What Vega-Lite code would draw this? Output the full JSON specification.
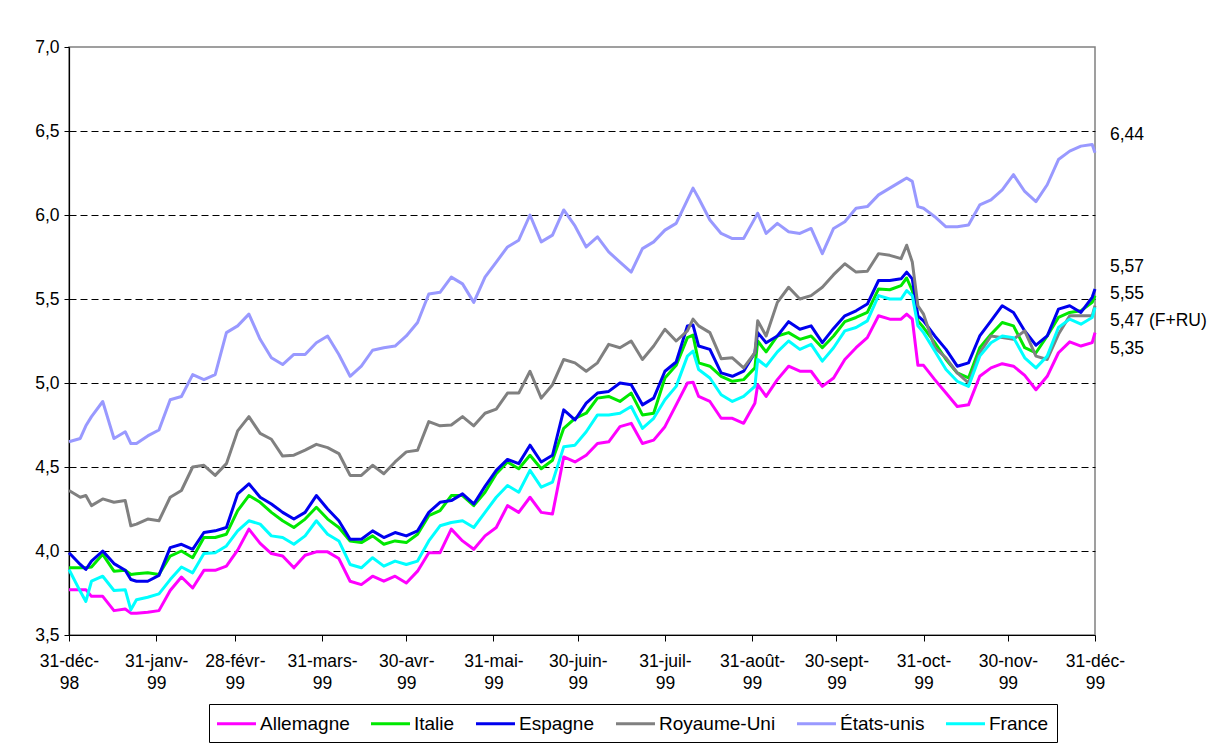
{
  "$schema": "https://vega.github.io/schema/vega-lite/v6.json",
  "width": 1026,
  "height": 588,
  "autosize": {"type": "none"},
  "padding": {"left": 69, "top": 47, "right": 132, "bottom": 114},
  "background": "white",
  "config": {
    "locale": {"number": {"decimal": ",", "thousands": " ", "grouping": [3], "currency": ["", " €"]}},
    "font": "Liberation Sans",
    "view": {"stroke": "#808080", "strokeWidth": 1.5}
  },
  "datasets": {
    "rates": [
      {"date":"1998-12-31","Allemagne":3.77,"Italie":3.90,"Espagne":3.99,"Royaume-Uni":4.36,"États-unis":4.65,"France":3.89},
      {"date":"1999-01-04","Allemagne":3.77,"Italie":3.90,"Espagne":3.92,"Royaume-Uni":4.32,"États-unis":4.67,"France":3.76},
      {"date":"1999-01-06","Allemagne":3.77,"Italie":3.90,"Espagne":3.89,"Royaume-Uni":4.33,"États-unis":4.745,"France":3.70},
      {"date":"1999-01-08","Allemagne":3.73,"Italie":3.905,"Espagne":3.94,"Royaume-Uni":4.27,"États-unis":4.80,"France":3.82},
      {"date":"1999-01-12","Allemagne":3.73,"Italie":3.98,"Espagne":4.00,"Royaume-Uni":4.31,"États-unis":4.89,"France":3.85},
      {"date":"1999-01-16","Allemagne":3.645,"Italie":3.88,"Espagne":3.925,"Royaume-Uni":4.29,"États-unis":4.67,"France":3.765},
      {"date":"1999-01-20","Allemagne":3.655,"Italie":3.885,"Espagne":3.885,"Royaume-Uni":4.30,"États-unis":4.71,"France":3.77},
      {"date":"1999-01-22","Allemagne":3.63,"Italie":3.86,"Espagne":3.83,"Royaume-Uni":4.15,"États-unis":4.64,"France":3.65},
      {"date":"1999-01-24","Allemagne":3.63,"Italie":3.865,"Espagne":3.82,"Royaume-Uni":4.16,"États-unis":4.64,"France":3.71},
      {"date":"1999-01-28","Allemagne":3.635,"Italie":3.87,"Espagne":3.82,"Royaume-Uni":4.19,"États-unis":4.685,"France":3.725},
      {"date":"1999-02-01","Allemagne":3.645,"Italie":3.86,"Espagne":3.855,"Royaume-Uni":4.18,"États-unis":4.72,"France":3.745},
      {"date":"1999-02-05","Allemagne":3.765,"Italie":3.97,"Espagne":4.02,"Royaume-Uni":4.32,"États-unis":4.90,"France":3.83},
      {"date":"1999-02-09","Allemagne":3.845,"Italie":4.00,"Espagne":4.04,"Royaume-Uni":4.36,"États-unis":4.92,"France":3.905},
      {"date":"1999-02-13","Allemagne":3.78,"Italie":3.96,"Espagne":4.01,"Royaume-Uni":4.50,"États-unis":5.05,"France":3.87},
      {"date":"1999-02-17","Allemagne":3.885,"Italie":4.08,"Espagne":4.11,"Royaume-Uni":4.51,"États-unis":5.02,"France":3.985},
      {"date":"1999-02-21","Allemagne":3.885,"Italie":4.08,"Espagne":4.12,"Royaume-Uni":4.45,"États-unis":5.05,"France":3.99},
      {"date":"1999-02-25","Allemagne":3.91,"Italie":4.10,"Espagne":4.14,"Royaume-Uni":4.52,"États-unis":5.30,"France":4.03},
      {"date":"1999-03-01","Allemagne":4.005,"Italie":4.24,"Espagne":4.34,"Royaume-Uni":4.715,"États-unis":5.34,"France":4.12},
      {"date":"1999-03-05","Allemagne":4.13,"Italie":4.33,"Espagne":4.40,"Royaume-Uni":4.80,"États-unis":5.41,"France":4.18},
      {"date":"1999-03-09","Allemagne":4.045,"Italie":4.29,"Espagne":4.32,"Royaume-Uni":4.70,"États-unis":5.26,"France":4.16},
      {"date":"1999-03-13","Allemagne":3.985,"Italie":4.23,"Espagne":4.28,"Royaume-Uni":4.665,"États-unis":5.15,"France":4.09},
      {"date":"1999-03-17","Allemagne":3.97,"Italie":4.18,"Espagne":4.23,"Royaume-Uni":4.565,"États-unis":5.11,"France":4.08},
      {"date":"1999-03-21","Allemagne":3.90,"Italie":4.14,"Espagne":4.19,"Royaume-Uni":4.57,"États-unis":5.17,"France":4.04},
      {"date":"1999-03-25","Allemagne":3.975,"Italie":4.19,"Espagne":4.23,"Royaume-Uni":4.60,"États-unis":5.17,"France":4.09},
      {"date":"1999-03-29","Allemagne":3.995,"Italie":4.26,"Espagne":4.33,"Royaume-Uni":4.635,"États-unis":5.24,"France":4.18},
      {"date":"1999-04-02","Allemagne":3.995,"Italie":4.19,"Espagne":4.25,"Royaume-Uni":4.615,"États-unis":5.28,"France":4.10},
      {"date":"1999-04-06","Allemagne":3.955,"Italie":4.14,"Espagne":4.18,"Royaume-Uni":4.58,"États-unis":5.17,"France":4.06},
      {"date":"1999-04-10","Allemagne":3.82,"Italie":4.06,"Espagne":4.07,"Royaume-Uni":4.45,"États-unis":5.04,"France":3.92},
      {"date":"1999-04-14","Allemagne":3.80,"Italie":4.05,"Espagne":4.07,"Royaume-Uni":4.45,"États-unis":5.10,"France":3.90},
      {"date":"1999-04-18","Allemagne":3.85,"Italie":4.09,"Espagne":4.12,"Royaume-Uni":4.51,"États-unis":5.195,"France":3.96},
      {"date":"1999-04-22","Allemagne":3.82,"Italie":4.04,"Espagne":4.08,"Royaume-Uni":4.46,"États-unis":5.21,"France":3.91},
      {"date":"1999-04-26","Allemagne":3.85,"Italie":4.06,"Espagne":4.11,"Royaume-Uni":4.53,"États-unis":5.22,"France":3.94},
      {"date":"1999-04-30","Allemagne":3.81,"Italie":4.05,"Espagne":4.09,"Royaume-Uni":4.59,"États-unis":5.28,"France":3.92},
      {"date":"1999-05-04","Allemagne":3.88,"Italie":4.10,"Espagne":4.12,"Royaume-Uni":4.60,"États-unis":5.36,"France":3.94},
      {"date":"1999-05-08","Allemagne":3.99,"Italie":4.21,"Espagne":4.23,"Royaume-Uni":4.77,"États-unis":5.53,"France":4.06},
      {"date":"1999-05-12","Allemagne":3.99,"Italie":4.24,"Espagne":4.29,"Royaume-Uni":4.745,"États-unis":5.54,"France":4.15},
      {"date":"1999-05-16","Allemagne":4.13,"Italie":4.33,"Espagne":4.30,"Royaume-Uni":4.75,"États-unis":5.63,"France":4.17},
      {"date":"1999-05-20","Allemagne":4.06,"Italie":4.33,"Espagne":4.34,"Royaume-Uni":4.80,"États-unis":5.59,"France":4.18},
      {"date":"1999-05-24","Allemagne":4.01,"Italie":4.27,"Espagne":4.28,"Royaume-Uni":4.745,"États-unis":5.48,"France":4.14},
      {"date":"1999-05-28","Allemagne":4.09,"Italie":4.35,"Espagne":4.385,"Royaume-Uni":4.82,"États-unis":5.63,"France":4.23},
      {"date":"1999-06-01","Allemagne":4.14,"Italie":4.46,"Espagne":4.48,"Royaume-Uni":4.845,"États-unis":5.72,"France":4.32},
      {"date":"1999-06-05","Allemagne":4.27,"Italie":4.53,"Espagne":4.545,"Royaume-Uni":4.94,"États-unis":5.81,"France":4.39},
      {"date":"1999-06-09","Allemagne":4.23,"Italie":4.49,"Espagne":4.52,"Royaume-Uni":4.94,"États-unis":5.85,"France":4.35},
      {"date":"1999-06-13","Allemagne":4.32,"Italie":4.57,"Espagne":4.63,"Royaume-Uni":5.07,"États-unis":6.00,"France":4.48},
      {"date":"1999-06-17","Allemagne":4.23,"Italie":4.49,"Espagne":4.53,"Royaume-Uni":4.91,"États-unis":5.84,"France":4.38},
      {"date":"1999-06-21","Allemagne":4.22,"Italie":4.54,"Espagne":4.57,"Royaume-Uni":4.99,"États-unis":5.88,"France":4.41},
      {"date":"1999-06-25","Allemagne":4.56,"Italie":4.73,"Espagne":4.84,"Royaume-Uni":5.14,"États-unis":6.03,"France":4.62},
      {"date":"1999-06-29","Allemagne":4.53,"Italie":4.79,"Espagne":4.78,"Royaume-Uni":5.12,"États-unis":5.935,"France":4.63},
      {"date":"1999-07-03","Allemagne":4.57,"Italie":4.82,"Espagne":4.88,"Royaume-Uni":5.07,"États-unis":5.81,"France":4.71},
      {"date":"1999-07-07","Allemagne":4.64,"Italie":4.91,"Espagne":4.94,"Royaume-Uni":5.12,"États-unis":5.87,"France":4.81},
      {"date":"1999-07-11","Allemagne":4.65,"Italie":4.92,"Espagne":4.95,"Royaume-Uni":5.23,"États-unis":5.78,"France":4.81},
      {"date":"1999-07-15","Allemagne":4.74,"Italie":4.89,"Espagne":5.00,"Royaume-Uni":5.21,"États-unis":5.72,"France":4.82},
      {"date":"1999-07-19","Allemagne":4.76,"Italie":4.94,"Espagne":4.99,"Royaume-Uni":5.25,"États-unis":5.66,"France":4.86},
      {"date":"1999-07-23","Allemagne":4.64,"Italie":4.81,"Espagne":4.87,"Royaume-Uni":5.14,"États-unis":5.80,"France":4.73},
      {"date":"1999-07-27","Allemagne":4.66,"Italie":4.82,"Espagne":4.91,"Royaume-Uni":5.22,"États-unis":5.84,"France":4.79},
      {"date":"1999-07-31","Allemagne":4.74,"Italie":5.03,"Espagne":5.07,"Royaume-Uni":5.32,"États-unis":5.91,"France":4.90},
      {"date":"1999-08-04","Allemagne":4.87,"Italie":5.105,"Espagne":5.125,"Royaume-Uni":5.25,"États-unis":5.95,"France":4.98},
      {"date":"1999-08-08","Allemagne":5.00,"Italie":5.27,"Espagne":5.34,"Royaume-Uni":5.31,"États-unis":6.09,"France":5.16},
      {"date":"1999-08-10","Allemagne":5.005,"Italie":5.285,"Espagne":5.345,"Royaume-Uni":5.38,"États-unis":6.16,"France":5.19},
      {"date":"1999-08-12","Allemagne":4.92,"Italie":5.12,"Espagne":5.22,"Royaume-Uni":5.34,"États-unis":6.10,"France":5.08},
      {"date":"1999-08-16","Allemagne":4.89,"Italie":5.10,"Espagne":5.20,"Royaume-Uni":5.30,"États-unis":5.97,"France":5.03},
      {"date":"1999-08-20","Allemagne":4.79,"Italie":5.04,"Espagne":5.06,"Royaume-Uni":5.145,"États-unis":5.89,"France":4.93},
      {"date":"1999-08-24","Allemagne":4.79,"Italie":5.01,"Espagne":5.04,"Royaume-Uni":5.15,"États-unis":5.86,"France":4.89},
      {"date":"1999-08-28","Allemagne":4.76,"Italie":5.02,"Espagne":5.07,"Royaume-Uni":5.09,"États-unis":5.86,"France":4.92},
      {"date":"1999-09-01","Allemagne":4.88,"Italie":5.09,"Espagne":5.18,"Royaume-Uni":5.18,"États-unis":5.98,"France":4.98},
      {"date":"1999-09-02","Allemagne":4.99,"Italie":5.25,"Espagne":5.30,"Royaume-Uni":5.37,"États-unis":6.01,"France":5.14},
      {"date":"1999-09-05","Allemagne":4.92,"Italie":5.185,"Espagne":5.24,"Royaume-Uni":5.28,"États-unis":5.89,"France":5.10},
      {"date":"1999-09-09","Allemagne":5.02,"Italie":5.28,"Espagne":5.28,"Royaume-Uni":5.48,"États-unis":5.95,"France":5.185},
      {"date":"1999-09-13","Allemagne":5.10,"Italie":5.30,"Espagne":5.365,"Royaume-Uni":5.57,"États-unis":5.90,"France":5.25},
      {"date":"1999-09-17","Allemagne":5.07,"Italie":5.26,"Espagne":5.32,"Royaume-Uni":5.50,"États-unis":5.89,"France":5.20},
      {"date":"1999-09-21","Allemagne":5.07,"Italie":5.28,"Espagne":5.34,"Royaume-Uni":5.52,"États-unis":5.92,"France":5.23},
      {"date":"1999-09-25","Allemagne":4.98,"Italie":5.21,"Espagne":5.24,"Royaume-Uni":5.57,"États-unis":5.77,"France":5.13},
      {"date":"1999-09-29","Allemagne":5.03,"Italie":5.28,"Espagne":5.325,"Royaume-Uni":5.645,"États-unis":5.92,"France":5.21},
      {"date":"1999-10-03","Allemagne":5.14,"Italie":5.365,"Espagne":5.40,"Royaume-Uni":5.71,"États-unis":5.96,"France":5.31},
      {"date":"1999-10-07","Allemagne":5.21,"Italie":5.39,"Espagne":5.43,"Royaume-Uni":5.66,"États-unis":6.04,"France":5.33},
      {"date":"1999-10-11","Allemagne":5.27,"Italie":5.42,"Espagne":5.47,"Royaume-Uni":5.665,"États-unis":6.05,"France":5.37},
      {"date":"1999-10-15","Allemagne":5.40,"Italie":5.56,"Espagne":5.61,"Royaume-Uni":5.77,"États-unis":6.12,"France":5.52},
      {"date":"1999-10-19","Allemagne":5.38,"Italie":5.555,"Espagne":5.61,"Royaume-Uni":5.76,"États-unis":6.16,"France":5.50},
      {"date":"1999-10-23","Allemagne":5.38,"Italie":5.58,"Espagne":5.62,"Royaume-Uni":5.74,"États-unis":6.20,"France":5.50},
      {"date":"1999-10-25","Allemagne":5.41,"Italie":5.625,"Espagne":5.66,"Royaume-Uni":5.82,"États-unis":6.22,"France":5.55},
      {"date":"1999-10-27","Allemagne":5.38,"Italie":5.55,"Espagne":5.62,"Royaume-Uni":5.72,"États-unis":6.20,"France":5.52},
      {"date":"1999-10-29","Allemagne":5.105,"Italie":5.37,"Espagne":5.40,"Royaume-Uni":5.46,"États-unis":6.05,"France":5.34},
      {"date":"1999-10-31","Allemagne":5.105,"Italie":5.33,"Espagne":5.37,"Royaume-Uni":5.41,"États-unis":6.04,"France":5.30},
      {"date":"1999-11-04","Allemagne":5.02,"Italie":5.24,"Espagne":5.28,"Royaume-Uni":5.21,"États-unis":5.99,"France":5.19},
      {"date":"1999-11-08","Allemagne":4.94,"Italie":5.14,"Espagne":5.20,"Royaume-Uni":5.15,"États-unis":5.93,"France":5.08},
      {"date":"1999-11-12","Allemagne":4.86,"Italie":5.06,"Espagne":5.10,"Royaume-Uni":5.06,"États-unis":5.93,"France":5.01},
      {"date":"1999-11-16","Allemagne":4.87,"Italie":5.03,"Espagne":5.12,"Royaume-Uni":5.00,"États-unis":5.94,"France":4.98},
      {"date":"1999-11-20","Allemagne":5.04,"Italie":5.21,"Espagne":5.28,"Royaume-Uni":5.18,"États-unis":6.06,"France":5.16},
      {"date":"1999-11-24","Allemagne":5.09,"Italie":5.29,"Espagne":5.37,"Royaume-Uni":5.28,"États-unis":6.09,"France":5.24},
      {"date":"1999-11-28","Allemagne":5.115,"Italie":5.36,"Espagne":5.46,"Royaume-Uni":5.27,"États-unis":6.15,"France":5.28},
      {"date":"1999-12-02","Allemagne":5.10,"Italie":5.34,"Espagne":5.42,"Royaume-Uni":5.26,"États-unis":6.24,"France":5.27},
      {"date":"1999-12-06","Allemagne":5.045,"Italie":5.21,"Espagne":5.31,"Royaume-Uni":5.31,"États-unis":6.14,"France":5.15},
      {"date":"1999-12-10","Allemagne":4.96,"Italie":5.18,"Espagne":5.225,"Royaume-Uni":5.16,"États-unis":6.08,"France":5.09},
      {"date":"1999-12-14","Allemagne":5.04,"Italie":5.28,"Espagne":5.28,"Royaume-Uni":5.14,"États-unis":6.18,"France":5.16},
      {"date":"1999-12-18","Allemagne":5.18,"Italie":5.39,"Espagne":5.44,"Royaume-Uni":5.29,"États-unis":6.33,"France":5.33},
      {"date":"1999-12-22","Allemagne":5.245,"Italie":5.42,"Espagne":5.46,"Royaume-Uni":5.40,"États-unis":6.38,"France":5.38},
      {"date":"1999-12-26","Allemagne":5.22,"Italie":5.43,"Espagne":5.42,"Royaume-Uni":5.40,"États-unis":6.41,"France":5.35},
      {"date":"1999-12-30","Allemagne":5.24,"Italie":5.48,"Espagne":5.51,"Royaume-Uni":5.40,"États-unis":6.42,"France":5.39},
      {"date":"1999-12-31","Allemagne":5.30,"Italie":5.52,"Espagne":5.56,"Royaume-Uni":5.46,"États-unis":6.37,"France":5.45}
    ],
    "labels": [
      {"date":"1999-12-31","label":"6,44","pos":6.475},
      {"date":"1999-12-31","label":"5,57","pos":5.69},
      {"date":"1999-12-31","label":"5,55","pos":5.53},
      {"date":"1999-12-31","label":"5,47 (F+RU)","pos":5.37},
      {"date":"1999-12-31","label":"5,35","pos":5.205}
    ]
  },
  "layer": [
    {
      "data": {"name": "rates"},
      "transform": [
        {"fold": ["Allemagne","Italie","Espagne","Royaume-Uni","États-unis","France"], "as": ["pays","taux"]}
      ],
      "mark": {"type": "line", "strokeWidth": 3, "strokeJoin": "round"},
      "encoding": {
        "x": {
          "field": "date", "type": "temporal",
          "scale": {"type": "utc", "nice": false, "domain": [{"year":1998,"month":12,"date":31,"utc":true},{"year":1999,"month":12,"date":31,"utc":true}]},
          "axis": {
            "title": null,
            "grid": false,
            "values": [
              {"year":1998,"month":12,"date":31,"utc":true},
              {"year":1999,"month":1,"date":31,"utc":true},
              {"year":1999,"month":2,"date":28,"utc":true},
              {"year":1999,"month":3,"date":31,"utc":true},
              {"year":1999,"month":4,"date":30,"utc":true},
              {"year":1999,"month":5,"date":31,"utc":true},
              {"year":1999,"month":6,"date":30,"utc":true},
              {"year":1999,"month":7,"date":31,"utc":true},
              {"year":1999,"month":8,"date":31,"utc":true},
              {"year":1999,"month":9,"date":30,"utc":true},
              {"year":1999,"month":10,"date":31,"utc":true},
              {"year":1999,"month":11,"date":30,"utc":true},
              {"year":1999,"month":12,"date":31,"utc":true}
            ],
            "labelExpr": "[utcdate(datum.value) + '-' + ['janv','févr','mars','avr','mai','juin','juil','août','sept','oct','nov','déc'][utcmonth(datum.value)] + '-', substring('' + utcyear(datum.value), 2)]",
            "labelAngle": 0,
            "labelAlign": "center",
            "labelBaseline": "top",
            "labelFontSize": 17.5,
            "labelColor": "black",
            "labelPadding": 11,
            "labelLineHeight": 22,
            "labelOverlap": false,
            "labelFlush": false,
            "domainColor": "black",
            "domainWidth": 1.2,
            "tickColor": "black",
            "tickSize": 6
          }
        },
        "y": {
          "field": "taux", "type": "quantitative",
          "scale": {"domain": [3.5, 7.0], "nice": false, "zero": false},
          "axis": {
            "title": null,
            "values": [3.5, 4, 4.5, 5, 5.5, 6, 6.5, 7],
            "format": ".1f",
            "labelFontSize": 17.5,
            "labelColor": "black",
            "labelPadding": 5,
            "domainColor": "black",
            "domainWidth": 1.2,
            "tickColor": "black",
            "tickSize": 5,
            "gridColor": "black",
            "gridDash": [7, 4],
            "gridWidth": 1,
            "gridOpacity": {"condition": {"test": "datum.value == 3.5 || datum.value == 7", "value": 0}, "value": 1}
          }
        },
        "color": {
          "field": "pays", "type": "nominal",
          "scale": {
            "domain": ["Allemagne","Italie","Espagne","Royaume-Uni","États-unis","France"],
            "range": ["#FF00FF","#00E800","#0000EE","#808080","#9999FF","#00FFFF"]
          },
          "legend": {
            "title": null,
            "orient": "none",
            "legendX": 140,
            "legendY": 657,
            "direction": "horizontal",
            "columns": 6,
            "symbolType": "M-2,0H2",
            "symbolSize": 380,
            "symbolOffset": 8,
            "symbolStrokeWidth": 3,
            "labelFontSize": 19,
            "labelColor": "black",
            "labelOffset": 12,
            "columnPadding": 15,
            "strokeColor": "black",
            "fillColor": "white",
            "padding": 8
          }
        }
      }
    },
    {
      "data": {"name": "labels"},
      "mark": {"type": "text", "align": "left", "baseline": "middle", "dx": 15, "fontSize": 17.5, "color": "black"},
      "encoding": {
        "x": {"field": "date", "type": "temporal"},
        "y": {"field": "pos", "type": "quantitative"},
        "text": {"field": "label"}
      }
    }
  ]
}
